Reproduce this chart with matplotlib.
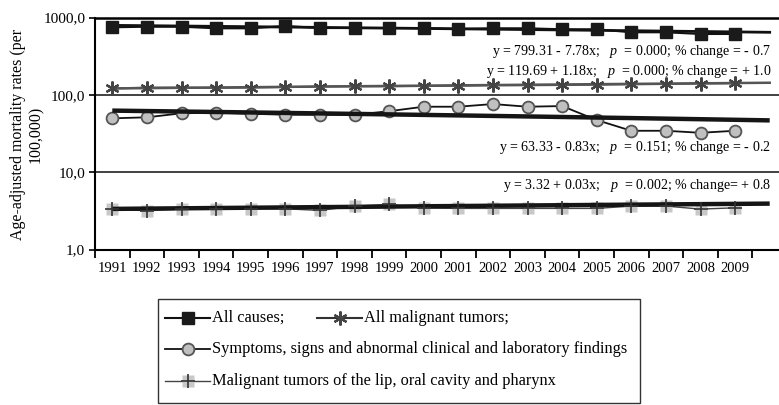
import numpy as np
import matplotlib.pyplot as plt
from matplotlib.lines import Line2D
from matplotlib.patches import Rectangle

plt.rcParams['font.family'] = 'Liberation Serif'
plt.rcParams['mathtext.fontset'] = 'custom'
plt.rcParams['mathtext.it'] = 'Liberation Serif:italic'
plt.rcParams['mathtext.rm'] = 'Liberation Serif'

years = ['1991', '1992', '1993', '1994', '1995', '1996', '1997', '1998', '1999', '2000',
         '2001', '2002', '2003', '2004', '2005', '2006', '2007', '2008', '2009', '']
all_causes = [747, 760, 760, 725, 725, 776, 731, 731, 731, 731,
              710, 725, 725, 704, 704, 644, 644, 612, 612]
malignant = [121, 124, 124, 123, 124, 126, 128, 129, 129, 130,
             131, 133, 133, 134, 135, 137, 138, 140, 141]
symptoms = [49.7, 51.2, 57.7, 58.7, 56.9, 55.3, 55.3, 55.3, 61.4, 70.2,
            70.2, 76.0, 70.2, 71.6, 47.2, 34.3, 34.3, 32.3, 34.3]
lip_oral = [3.33, 3.17, 3.33, 3.36, 3.36, 3.36, 3.20, 3.64, 3.83, 3.43,
            3.40, 3.40, 3.40, 3.40, 3.40, 3.64, 3.64, 3.33, 3.46]

# regression coefficients (intercept, slope) shown on the chart
trend_all = (799.31, -7.78)
trend_mal = (119.69, 1.18)
trend_sym = (63.33, -0.83)
trend_lip = (3.32, 0.03)

labels = ['y = 799.31 - 7.78x;   $p$  = 0.000; % change = - 0.7',
          'y = 119.69 + 1.18x;   $p$  = 0.000; % change = + 1.0',
          'y = 63.33 - 0.83x;   $p$  = 0.151; % change = - 0.2',
          'y = 3.32 + 0.03x;   $p$  = 0.002; % change= + 0.8']

W, H = 779, 405
fig = plt.figure(figsize=(W / 100, H / 100), dpi=100)


def fx(px):
    return px / W


def fy(py):
    return 1 - py / H


ax = fig.add_axes([fx(95), fy(249.5), fx(787) - fx(95), fy(17.5) - fy(249.5)])
ax.set_yscale('log')
ax.set_ylim(1, 1000)
ax.set_xlim(0.5, 20.5)

xd = np.arange(1, 20)
xt = np.arange(1, 21)

for (a, b) in [trend_lip, trend_sym]:
    ax.plot(xt, a + b * xt, color='#151515', lw=3.2, zorder=4, solid_capstyle='butt')

ax.plot(xd, lip_oral, color='#444444', lw=1, zorder=3)
ax.plot(xd, lip_oral, ls='none', marker='s', ms=9, mfc='#c8c8c8', mec='none', zorder=3)
ax.plot(xd, lip_oral, ls='none', marker='+', ms=10, mew=1.2, color='#333333', zorder=5)

ax.plot(xd, symptoms, color='#111111', lw=1.3, marker='o', ms=8.5, mfc='#c0c0c0',
        mec='#555555', mew=1.3, zorder=3)

ax.plot(xt, trend_mal[0] + trend_mal[1] * xt, color='#555555', lw=1.8, zorder=4)
ax.plot(xd, malignant, color='#555555', lw=1.5, marker=(6, 2, 0), ms=10, mew=1.6,
        mec='#444444', zorder=5)

ax.plot(xt, trend_all[0] + trend_all[1] * xt, color='#111111', lw=2, zorder=4)
ax.plot(xd, all_causes, color='#111111', lw=1.5, marker='s', ms=9, mfc='#1a1a1a',
        mec='#1a1a1a', zorder=5)

ax.set_yticks([1, 10, 100, 1000])
ax.set_yticklabels(['1,0', '10,0', '100,0', '1000,0'], fontsize=11)
ax.yaxis.set_minor_locator(plt.NullLocator())
ax.grid(axis='y', which='major', color='#333333', lw=1.3)
ax.tick_params(axis='y', direction='out', length=4, width=1.2, pad=3)

ax.set_xticks(np.arange(0.5, 21, 1))
ax.set_xticklabels([])
ax.set_xticks(xt, minor=True)
ax.set_xticklabels(years, minor=True, fontsize=10.5)
ax.tick_params(axis='x', which='major', direction='out', length=6, width=1.3)
ax.tick_params(axis='x', which='minor', length=0, pad=9)

for side in ['left', 'bottom']:
    ax.spines[side].set_linewidth(1.5)
ax.spines['top'].set_linewidth(1.8)
ax.spines['right'].set_visible(False)
ax.set_axisbelow(True)

fig.text(fx(27), fy(134), 'Age-adjusted mortality rates (per\n100,000)', rotation=90,
         ha='center', va='center', fontsize=11.4, linespacing=1.1)

for lab, py in zip(labels, [52, 72, 148, 185]):
    fig.text(fx(771), fy(py), lab, ha='right', va='center', fontsize=10.1)

# legend box
fig.patches.append(Rectangle((fx(158), fy(403)), fx(640) - fx(158), fy(299) - fy(403),
                             transform=fig.transFigure, fill=False, ec='#333333', lw=1))

entries = [
    (165, 318, dict(color='#111111', lw=1.5, marker='s', ms=9, mfc='#1a1a1a', mec='#1a1a1a'),
     'All causes;'),
    (317, 318, dict(color='#333333', lw=1.5, marker=(6, 2, 0), ms=10, mew=1.6, mec='#444444'),
     'All malignant tumors;'),
    (165, 349, dict(color='#111111', lw=1.3, marker='o', ms=8.5, mfc='#c0c0c0', mec='#555555',
                    mew=1.3), 'Symptoms, signs and abnormal clinical and laboratory findings'),
    (165, 381, dict(color='#444444', lw=1, marker='s', ms=9, mfc='#c8c8c8', mec='none'),
     'Malignant tumors of the lip, oral cavity and pharynx'),
]
for x0, py, style, txt in entries:
    fig.lines.append(Line2D([fx(x0), fx(x0 + 22.5), fx(x0 + 45)], [fy(py)] * 3,
                            transform=fig.transFigure, markevery=[1], **style))
    fig.text(fx(x0 + 47), fy(py), txt, ha='left', va='center', fontsize=11.8)
fig.lines.append(Line2D([fx(187.5)], [fy(381)], transform=fig.transFigure, ls='none',
                        marker='+', ms=10, mew=1.2, color='#333333'))

fig.savefig('out.png', dpi=100)
